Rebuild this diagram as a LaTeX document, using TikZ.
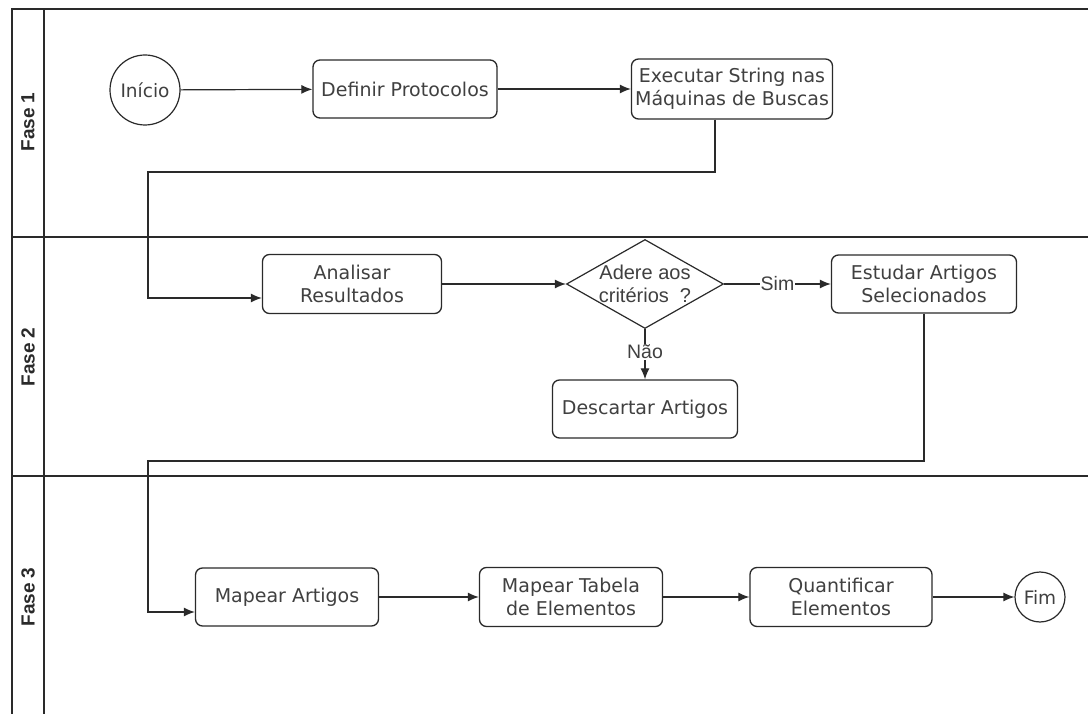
\documentclass[tikz,border=0pt]{standalone}
\usepackage{fontspec}
\setmainfont{DejaVu Sans}
\newfontfamily\arialf{Liberation Sans}
\usetikzlibrary{shapes.geometric,arrows.meta}
\definecolor{txt}{HTML}{404040}
\definecolor{ln}{HTML}{2a2a2a}
\begin{document}
\begin{tikzpicture}[x=1pt,y=-1pt,
  box/.style={draw=ln, line width=1.3pt, rounded corners=7pt, minimum width=184pt,
    minimum height=58pt, align=center, text=txt, inner sep=1pt,
    font=\fontsize{19}{23}\selectfont},
  term/.style={draw=ln, line width=1.2pt, circle, inner sep=0pt, text=txt,
    font=\fontsize{18.5}{22}\selectfont},
  dec/.style={draw=ln, line width=1.2pt, diamond, inner sep=0pt,
    minimum width=157pt, minimum height=89pt},
  lbl/.style={fill=white, inner sep=1pt, text=txt, font=\arialf\fontsize{19.5}{22}\selectfont},
  arr/.style={draw=ln, line width=1.2pt, -{Latex[length=11pt,width=9pt]}},
  lane/.style={draw=ln, line width=1.4pt},
  lanetxt/.style={rotate=90, font=\arialf\bfseries\fontsize{19}{22}\selectfont, text=ln}
]
\useasboundingbox (0,0) rectangle (1088,714);
\fill[white] (0,0) rectangle (1088,714);

% pool / lanes
\coordinate (tl) at (12,9);
\coordinate (tr) at (1088,9);
\coordinate (bl) at (12,714);
\coordinate (ml) at (44,9);
\coordinate (mb) at (44,714);
\draw[lane] (bl) -- (tl) -- (tr);
\draw[lane] (ml) -- (mb);
\coordinate (l1a) at (12,237);
\coordinate (l1b) at (1088,237);
\coordinate (l2a) at (12,476);
\coordinate (l2b) at (1088,476);
\draw[lane] (l1a) -- (l1b);
\draw[lane] (l2a) -- (l2b);
\node[lanetxt] (f1) at (28,122) {Fase 1};
\node[lanetxt] (f2) at (28,357) {Fase 2};
\node[lanetxt] (f3) at (28,597) {Fase 3};

% nodes
\node[term, minimum size=70pt] (ini) at (145,90) {Início};
\node[box] (def) at (405,89) {Definir Protocolos};
\node[box, minimum width=201pt, minimum height=60pt] (exe) at (732,89) {Executar String nas\\Máquinas de Buscas};
\node[box, minimum width=179pt, minimum height=59pt] (ana) at (352,284) {Analisar\\Resultados};
\node[dec, label={[font=\arialf\fontsize{20}{23}\selectfont, text=txt, align=center]center:{Adere aos\\critérios\ \ ?}}] (crit) at (645,284) {};
\node[box, minimum width=185pt] (est) at (924,284) {Estudar Artigos\\Selecionados};
\node[box, minimum width=185pt] (des) at (645,409) {Descartar Artigos};
\node[box, minimum width=183pt] (map) at (287,597) {Mapear Artigos};
\node[box, minimum width=183pt, minimum height=59pt] (tab) at (571,597) {Mapear Tabela\\de Elementos};
\node[box, minimum width=182pt, minimum height=59pt] (qua) at (841,597) {Quantificar\\Elementos};
\node[term, minimum size=50pt] (fim) at (1040,597) {Fim};

% connectors
\coordinate (b1) at (148,172);
\coordinate (b2) at (148,461);
\draw[arr] (ini) -- (def);
\draw[arr] (def) -- (exe);
\draw[arr] ([xshift=-17pt]exe.south) |- (b1) |- ([yshift=-14pt]ana.west);
\draw[arr] (ana) -- (crit);
\draw[arr] (crit) -- node[lbl] (sim) {Sim} (est);
\draw[arr] (crit) -- node[lbl, pos=0.45] (nao) {Não} (des);
\draw[arr] (est.south) |- (b2) |- ([yshift=-15pt]map.west);
\draw[arr] (map) -- (tab);
\draw[arr] (tab) -- (qua);
\draw[arr] (qua) -- (fim);
\end{tikzpicture}
\end{document}
